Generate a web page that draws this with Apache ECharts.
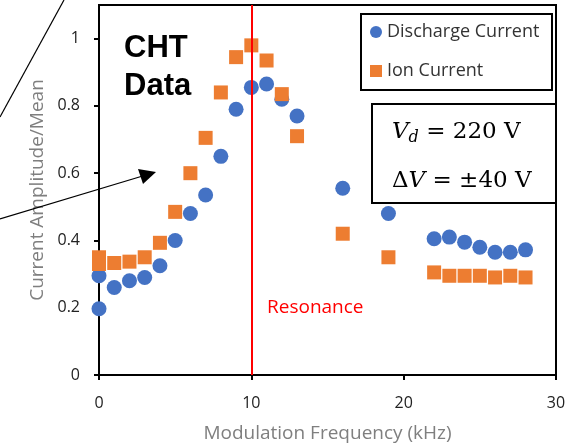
<!DOCTYPE html>
<html><head><meta charset="utf-8">
<script src="https://cdn.jsdelivr.net/npm/echarts@6/dist/echarts.min.js"></script>
<style>html,body{margin:0;padding:0;background:#fff}#c{width:579px;height:444px}</style>
</head><body><div id="c"></div>
<script>
const dischargeFreq = [0, 0, 1, 2, 3, 4, 5, 6, 7, 8, 9, 10, 11, 12, 13, 16, 19, 22, 23, 24, 25, 26, 27, 28];
const dischargeVal  = [0.197, 0.295, 0.26, 0.28, 0.29, 0.325, 0.40, 0.48, 0.535, 0.65, 0.79, 0.855, 0.865, 0.82, 0.77, 0.555, 0.48, 0.405, 0.41, 0.395, 0.38, 0.365, 0.365, 0.372];
const ionFreq = [0, 0, 1, 2, 3, 4, 5, 6, 7, 8, 9, 10, 11, 12, 13, 16, 19, 22, 23, 24, 25, 26, 27, 28];
const ionVal  = [0.35, 0.33, 0.333, 0.337, 0.35, 0.393, 0.485, 0.60, 0.705, 0.84, 0.945, 0.98, 0.935, 0.835, 0.71, 0.42, 0.35, 0.305, 0.295, 0.295, 0.295, 0.29, 0.295, 0.29];
const resonanceFreq = 10;
const xTicks = [0, 10, 20, 30];
const yTicks = [0, 0.2, 0.4, 0.6, 0.8, 1];

const chart = echarts.init(document.getElementById('c'), null, {renderer: 'canvas'});
const font = 'Open Sans, Noto Sans, sans-serif';
chart.setOption({
  animation: false,
  grid: {left: 99, right: 23, top: 5, bottom: 69, show: true, borderColor: '#000', borderWidth: 2, backgroundColor: '#fff',
    outerBoundsMode: 'none', containLabel: false},
  xAxis: {
    type: 'value', min: 0, max: 30, interval: 10,
    name: 'Modulation Frequency (kHz)', nameLocation: 'middle', nameGap: 49,
    nameTextStyle: {color: '#7f7f7f', fontSize: 19, fontFamily: font},
    axisLine: {lineStyle: {color: '#000', width: 2}},
    axisTick: {show: true, length: 5, lineStyle: {color: '#000', width: 2}},
    axisLabel: {color: '#222', fontSize: 16, fontFamily: font, margin: 20},
    splitLine: {show: false}
  },
  yAxis: {
    type: 'value', min: 0, max: 1.1, interval: 0.2,
    name: 'Current Amplitude/Mean', nameLocation: 'middle', nameGap: 52,
    nameTextStyle: {color: '#7f7f7f', fontSize: 19, fontFamily: font},
    axisLine: {show: true, lineStyle: {color: '#000', width: 2}},
    axisTick: {show: true, length: 5, lineStyle: {color: '#000', width: 2}},
    axisLabel: {color: '#222', fontSize: 16, fontFamily: font, margin: 19, showMaxLabel: false,
      formatter: v => (yTicks.some(t => Math.abs(t - v) < 1e-9) ? String(+v.toFixed(1)) : '')},
    splitLine: {show: false}
  },
  legend: {
    orient: 'vertical', left: 370, top: 23, itemGap: 21, itemWidth: 12, itemHeight: 12, padding: 0,
    textStyle: {color: '#333', fontSize: 18, lineHeight: 18, fontFamily: font},
    data: [{name: 'Discharge Current', icon: 'circle'}, {name: 'Ion Current', icon: 'rect'}]
  },
  series: [
    {
      name: 'Discharge Current', type: 'scatter', symbol: 'circle', symbolSize: 15,
      itemStyle: {color: '#4472C4', opacity: 1},
      data: dischargeFreq.map((f, i) => [f, dischargeVal[i]]),
      markLine: {
        silent: true, symbol: 'none', label: {show: false},
        lineStyle: {color: '#ff0000', width: 2, type: 'solid'},
        data: [{xAxis: resonanceFreq}]
      }
    },
    {
      name: 'Ion Current', type: 'scatter', symbol: 'rect', symbolSize: 14,
      itemStyle: {color: '#ED7D31', opacity: 1},
      data: ionFreq.map((f, i) => [f, ionVal[i]])
    }
  ],
  graphic: [
    {type: 'rect', z: 5, shape: {x: 361, y: 14, width: 191, height: 76}, style: {fill: 'none', stroke: '#000', lineWidth: 2}},
    {type: 'rect', z: 5, shape: {x: 372, y: 104, width: 184, height: 99}, style: {fill: '#fff', stroke: '#000', lineWidth: 2}},
    {type: 'text', z: 6, left: 392, top: 121, style: {
      text: '{v|V}{s|d}{n| = 220 V}',
      rich: {
        v: {fontFamily: 'DejaVu Serif', fontStyle: 'italic', fontSize: 23, fill: '#000'},
        s: {fontFamily: 'DejaVu Serif', fontStyle: 'italic', fontSize: 16, fill: '#000', padding: [11, 0, 0, 0]},
        n: {fontFamily: 'DejaVu Serif', fontSize: 23, fill: '#000'}
      }}},
    {type: 'text', z: 6, left: 392, top: 170, style: {
      text: '{n|Δ}{v|V}{n| = ±40 V}',
      rich: {
        v: {fontFamily: 'DejaVu Serif', fontStyle: 'italic', fontSize: 23, fill: '#000'},
        n: {fontFamily: 'DejaVu Serif', fontSize: 23, fill: '#000'}
      }}},
    {type: 'text', z: 6, left: 124, top: 29, style: {
      text: 'CHT\nData', fontFamily: 'Liberation Sans, Arial, sans-serif', fontWeight: 'bold', fontSize: 31, lineHeight: 38, fill: '#000'}},
    {type: 'text', z: 6, left: 267, top: 298, style: {
      text: 'Resonance', fontFamily: font, fontSize: 19, fill: '#ff0000'}},
    {type: 'line', z: 6, shape: {x1: 0, y1: 117, x2: 64, y2: 0}, style: {stroke: '#000', lineWidth: 1.2}},
    {type: 'line', z: 6, shape: {x1: 0, y1: 219, x2: 146, y2: 175}, style: {stroke: '#000', lineWidth: 1.2}},
    {type: 'polygon', z: 6, shape: {points: [[156, 172], [138, 169], [143, 184]]}, style: {fill: '#000'}}
  ]
});
</script></body></html>
